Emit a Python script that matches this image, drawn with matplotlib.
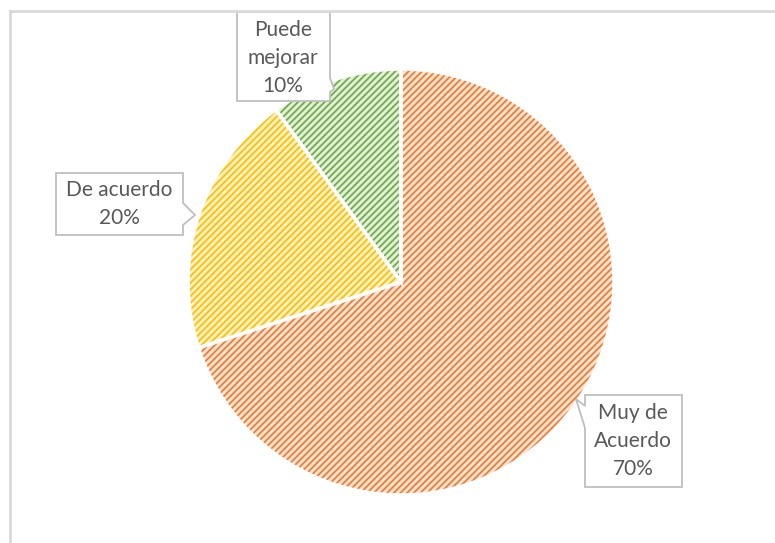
import numpy as np
import matplotlib.pyplot as plt
from matplotlib.patches import Polygon
from matplotlib.lines import Line2D

labels = ["Muy de\nAcuerdo", "De acuerdo", "Puede\nmejorar"]
values = [70, 20, 10]
hatch_colors = ["#ED7D31", "#FFC000", "#70AD47"]
fill_colors = ["#FBE3D4", "#FFF1C8", "#E3EFDA"]

W, H = 775, 543
plt.rcParams['hatch.linewidth'] = 1.3
fig = plt.figure(figsize=(W / 100, H / 100), dpi=100)


def fx(x):
    return x / W


def fy(y):
    return 1 - y / H


# pie centre ~ (400, 282) px, radius ~ 213 px
cx, cy, r = 401, 282, 213
ax = fig.add_axes([fx(cx - r), fy(cy + r), 2 * r / W, 2 * r / H])

wedges, _ = ax.pie(values, startangle=90, counterclock=False, radius=1,
                   wedgeprops=dict(linewidth=0))
for w, hc, fc in zip(wedges, hatch_colors, fill_colors):
    w.set_facecolor(fc)
    w.set_edgecolor(hc)
    w.set_hatch("/////")
# white separators
ax.pie(values, startangle=90, counterclock=False, radius=1,
       wedgeprops=dict(fill=False, edgecolor="white", linewidth=2.5))
ax.set_xlim(-1, 1)
ax.set_ylim(-1, 1)
ax.axis("off")

# outer frame (top and left only visible)
fig.add_artist(Line2D([fx(10), fx(774)], [fy(11), fy(11)], color="#D9D9D9", lw=2))
fig.add_artist(Line2D([fx(10), fx(10)], [fy(11), fy(543)], color="#D9D9D9", lw=2))

# callout boxes (pixel outlines)
callouts = [
    ([(585, 395), (682, 395), (682, 487), (585, 487), (585, 428), (576, 399), (585, 406)],
     (633, 441)),
    ([(56, 173), (183, 173), (183, 203), (195, 215), (183, 225), (183, 235), (56, 235)],
     (119, 204)),
    ([(237, 12), (330, 12), (330, 78), (334, 89), (330, 92), (330, 101), (237, 101)],
     (283, 58)),
]
pcts = [f"{v}%" for v in values]
for (pts, tc), lab, pct in zip(callouts, labels, pcts):
    poly = Polygon([(fx(x), fy(y)) for x, y in pts], closed=True,
                   transform=fig.transFigure, facecolor="white",
                   edgecolor="#BFBFBF", lw=1.3)
    fig.add_artist(poly)
    fig.text(fx(tc[0]), fy(tc[1]), lab + "\n" + pct, ha="center", va="center",
             fontsize=15, family="Lato", color="#595959", linespacing=1.5)

fig.savefig("out.png", dpi=100)
